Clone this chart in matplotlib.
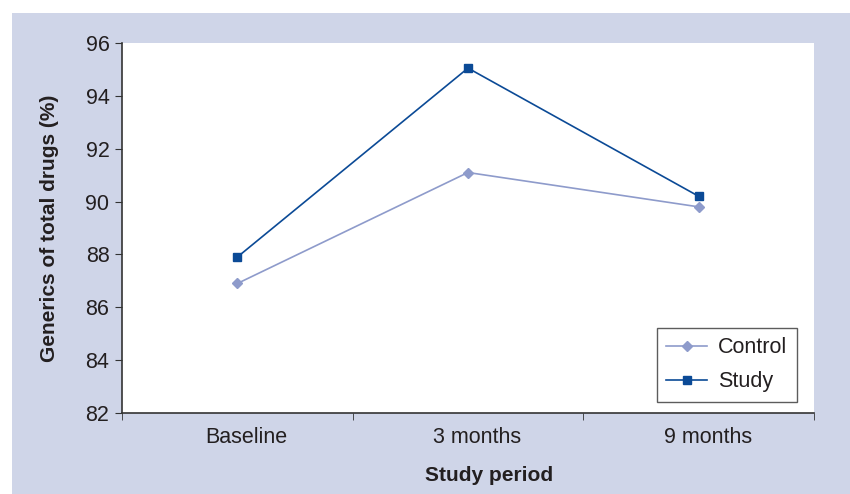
import matplotlib.pyplot as plt
import matplotlib.patches as mpatches
from matplotlib.transforms import ScaledTranslation

plt.rcParams['font.family'] = ['Liberation Sans', 'DejaVu Sans']

# data
periods = ['Baseline', '3 months', '9 months']
control = [86.9, 91.1, 89.8]
study = [87.9, 95.05, 90.2]
y_ticks = [82, 84, 86, 88, 90, 92, 94, 96]

bg = '#cfd5e8'
text_col = '#231f20'

fig = plt.figure(figsize=(8.5, 4.94), dpi=100)
fig.patch.set_facecolor('white')
# light blue panel behind the chart
fig.patches.append(mpatches.Rectangle((12 / 850, 0), 1, 1 - 13 / 494,
                                      transform=fig.transFigure,
                                      facecolor=bg, edgecolor='none', zorder=-1))

ax = fig.add_axes([122 / 850, 1 - 413 / 494, (814 - 122) / 850, (413 - 43) / 494])
ax.set_facecolor('white')

x = range(len(periods))
ax.plot(x, control, color='#8e9bcb', lw=1.2, marker='D', ms=5, label='Control')
ax.plot(x, study, color='#0b4a96', lw=1.2, marker='s', ms=6, label='Study')

ax.set_xlim(-0.5, 2.5)
ax.set_ylim(82, 96)
ax.set_yticks(y_ticks)
ax.set_xticks(x)
ax.set_xticklabels(periods)
ax.set_xticks([-0.5, 0.5, 1.5, 2.5], minor=True)
ax.tick_params(axis='x', which='major', length=0, pad=10, labelsize=15.5, labelcolor=text_col)
ax.tick_params(axis='x', which='minor', length=5, color='#333333')
ax.tick_params(axis='y', length=5, color='#333333', labelsize=15.5, labelcolor=text_col, pad=4)

# the original labels sit a little right of the category centres
shift = ScaledTranslation(9 / 100, 0, fig.dpi_scale_trans)
for lbl in ax.get_xticklabels():
    lbl.set_transform(lbl.get_transform() + shift)

for s in ['top', 'right']:
    ax.spines[s].set_visible(False)
for s in ['left', 'bottom']:
    ax.spines[s].set_color('#333333')
    ax.spines[s].set_linewidth(1.2)

ax.set_xlabel('Study period', fontsize=15, fontweight='bold', color=text_col)
ax.xaxis.set_label_coords((489 - 122) / 692, -53 / 370)
ax.set_ylabel('Generics of total drugs (%)', fontsize=15, fontweight='bold', color=text_col, labelpad=19)

leg = ax.legend(loc='lower right', bbox_to_anchor=(797 / 850, 1 - 402 / 494),
                bbox_transform=fig.transFigure, fontsize=15.5, frameon=True,
                fancybox=False, edgecolor='#333333', borderpad=0.45,
                handlelength=1.9, handletextpad=0.5, labelspacing=0.6,
                borderaxespad=0)
leg.get_frame().set_linewidth(1.0)
for t in leg.get_texts():
    t.set_color(text_col)

plt.savefig('out.png', dpi=100, facecolor=fig.get_facecolor())
